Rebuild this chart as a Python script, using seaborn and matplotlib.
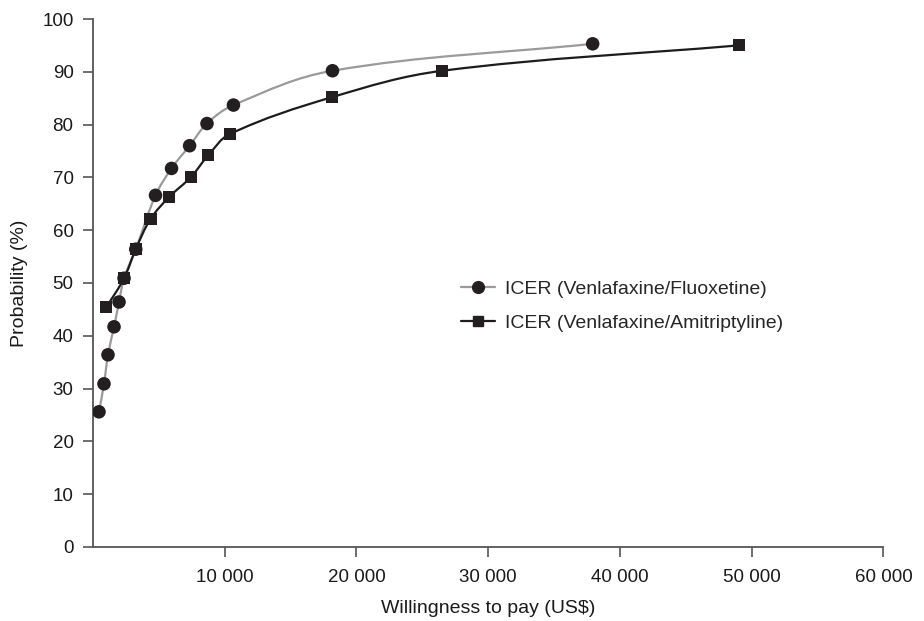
import numpy as np
import pandas as pd
import matplotlib
matplotlib.use("Agg")
import matplotlib.pyplot as plt
from matplotlib.path import Path
from matplotlib.patches import PathPatch
from matplotlib.lines import Line2D
import seaborn as sns

# ---- data ----
fluox_wtp = [457, 838, 1142, 1600, 1980, 2361, 3250, 4747, 5966, 7336, 8656, 10663, 18180, 37930]
fluox_prob = [25.6, 30.9, 36.4, 41.7, 46.4, 50.9, 56.4, 66.6, 71.7, 76.0, 80.2, 83.7, 90.2, 95.3]
amit_wtp = [1015, 2361, 3250, 4367, 5788, 7412, 8758, 10385, 18150, 26530, 49000]
amit_prob = [45.4, 50.9, 56.4, 62.1, 66.3, 70.0, 74.2, 78.2, 85.2, 90.2, 95.0]
series_names = ["ICER (Venlafaxine/Fluoxetine)", "ICER (Venlafaxine/Amitriptyline)"]
x_ticks = [10000, 20000, 30000, 40000, 50000, 60000]
x_tick_labels = ["10 000", "20 000", "30 000", "40 000", "50 000", "60 000"]
y_ticks = [0, 10, 20, 30, 40, 50, 60, 70, 80, 90, 100]

sns.set_theme(style="white")
plt.rcParams["font.family"] = ["Liberation Sans", "DejaVu Sans"]

fig = plt.figure(figsize=(9.24, 6.21), dpi=100)
ax = fig.add_axes([0.1006, 0.1192, 0.8555, 0.8502])
ax.set_xlim(0, 60000)
ax.set_ylim(0, 100)

GRAY = "#9a9a9a"
BLACK = "#1c1c1c"
MARK = "#231f20"


def smooth_path(xs, ys, tension=0.36):
    """Bezier-smoothed line through the data points (tangents computed in display space)."""
    P = ax.transData.transform(np.column_stack([xs, ys]).astype(float))
    n = len(P)

    def unit(v):
        nv = np.hypot(*v)
        return v / nv if nv > 0 else v

    tang = []
    for i in range(n):
        a = P[i - 1] if i > 0 else P[i]
        b = P[i + 1] if i < n - 1 else P[i]
        tang.append(unit(b - a))
    verts = [P[0]]
    codes = [Path.MOVETO]
    for i in range(n - 1):
        d = np.hypot(*(P[i + 1] - P[i]))
        c1 = P[i] + tang[i] * d * tension
        c2 = P[i + 1] - tang[i + 1] * d * tension
        verts += [c1, c2, P[i + 1]]
        codes += [Path.CURVE4] * 3
    V = ax.transData.inverted().transform(np.array(verts))
    return Path(V, codes)


ax.add_patch(PathPatch(smooth_path(fluox_wtp, fluox_prob), fill=False,
                       edgecolor=GRAY, lw=1.6, zorder=2))
ax.add_patch(PathPatch(smooth_path(amit_wtp, amit_prob), fill=False,
                       edgecolor=BLACK, lw=1.6, zorder=2))

df_f = pd.DataFrame({"wtp": fluox_wtp, "prob": fluox_prob})
df_a = pd.DataFrame({"wtp": amit_wtp, "prob": amit_prob})
sns.scatterplot(data=df_f, x="wtp", y="prob", ax=ax, marker="o", s=95,
                color=MARK, edgecolor="none", zorder=3)
sns.scatterplot(data=df_a, x="wtp", y="prob", ax=ax, marker="s", s=75,
                color=MARK, edgecolor="none", zorder=4)

ax.set_xlim(0, 60000)
ax.set_ylim(0, 100)
ax.set_xticks(x_ticks)
ax.set_xticklabels(x_tick_labels)
ax.set_yticks(y_ticks)

for s in ["top", "right"]:
    ax.spines[s].set_visible(False)
for s in ["left", "bottom"]:
    ax.spines[s].set_color("#555555")
    ax.spines[s].set_linewidth(1.3)

ax.tick_params(axis="both", which="major", direction="out", width=1.2,
               color="#555555", labelsize=13.5, labelcolor="#1a1a1a",
               bottom=True, left=True)
ax.tick_params(axis="x", length=7, pad=9)
ax.tick_params(axis="y", length=7, pad=7)

ax.set_xlabel("Willingness to pay (US$)", fontsize=14, color="#1a1a1a", labelpad=10)
ax.set_ylabel("Probability (%)", fontsize=14, color="#1a1a1a", labelpad=10)

handles = [
    Line2D([0], [0], color=GRAY, lw=1.6, marker="o", markersize=8.5,
           markerfacecolor=MARK, markeredgecolor=MARK),
    Line2D([0], [0], color=BLACK, lw=1.6, marker="s", markersize=7.5,
           markerfacecolor=MARK, markeredgecolor=MARK),
]
ax.legend(handles, series_names, loc="center left", bbox_to_anchor=(0.443, 0.456),
          frameon=False, fontsize=14, handlelength=1.75, labelspacing=0.85,
          handletextpad=0.55)

fig.savefig("out.png", dpi=100)
